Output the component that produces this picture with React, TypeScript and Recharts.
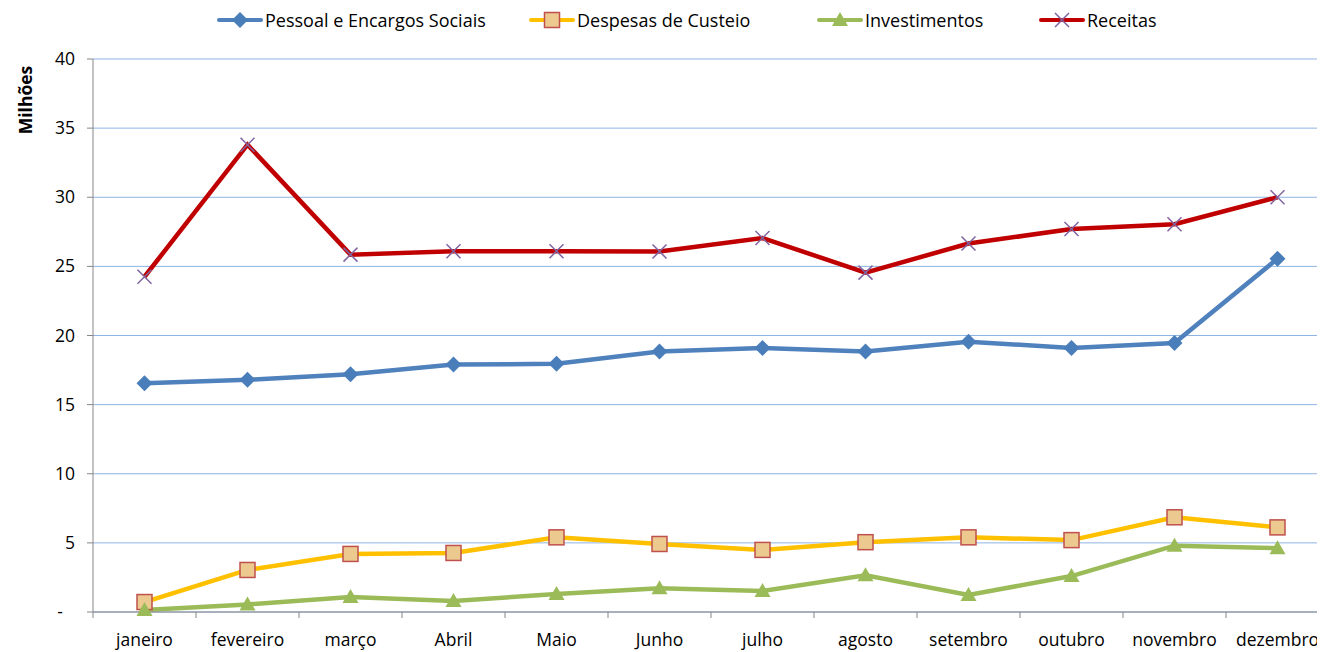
import React from "react";
import { LineChart, Line, XAxis, YAxis, CartesianGrid } from "recharts";

const months = [
  "janeiro",
  "fevereiro",
  "março",
  "Abril",
  "Maio",
  "Junho",
  "julho",
  "agosto",
  "setembro",
  "outubro",
  "novembro",
  "dezembro",
];

// valores em milhões
const pessoal = [16.55, 16.8, 17.2, 17.9, 17.95, 18.85, 19.1, 18.85, 19.55, 19.1, 19.45, 25.55];
const despesas = [0.72, 3.04, 4.2, 4.27, 5.4, 4.92, 4.49, 5.05, 5.4, 5.2, 6.85, 6.12];
const investimentos = [0.15, 0.55, 1.08, 0.8, 1.3, 1.72, 1.52, 2.65, 1.23, 2.6, 4.8, 4.62];
const receitas = [24.25, 33.8, 25.85, 26.1, 26.1, 26.08, 27.05, 24.55, 26.65, 27.7, 28.05, 30.0];

const yTicks = [0, 5, 10, 15, 20, 25, 30, 35, 40];

const data = months.map((month, i) => ({
  month,
  pessoal: pessoal[i],
  despesas: despesas[i],
  investimentos: investimentos[i],
  receitas: receitas[i],
}));

const FONT = "'Open Sans', sans-serif";
const FS = 17.5;
const W = 1321; // plot runs slightly past the visible frame, like the original
const H = 644;
const PLOT_LEFT = 85;
const PLOT_BOTTOM = 604;
const BAND = (W - PLOT_LEFT) / months.length;

const BLUE = "#4f81bd";
const GOLD = "#ffc000";
const GREEN = "#9bbb59";
const RED = "#c00000";
const PURPLE = "#8064a2";

const Diamond = ({ cx, cy }: any) =>
  cx == null ? null : (
    <path d={`M${cx},${cy - 8} L${cx + 8},${cy} L${cx},${cy + 8} L${cx - 8},${cy} Z`} fill="#4a7ebb" />
  );

const Square = ({ cx, cy }: any) =>
  cx == null ? null : (
    <rect x={cx - 7.5} y={cy - 7.5} width={15} height={15} fill="#ebc98f" stroke="#c0504d" strokeWidth={1.5} />
  );

const Triangle = ({ cx, cy }: any) =>
  cx == null ? null : (
    <path d={`M${cx},${cy - 8} L${cx + 8},${cy + 6} L${cx - 8},${cy + 6} Z`} fill={GREEN} />
  );

const Cross = ({ cx, cy }: any) =>
  cx == null ? null : (
    <path
      d={`M${cx - 7},${cy - 7} L${cx + 7},${cy + 7} M${cx + 7},${cy - 7} L${cx - 7},${cy + 7}`}
      stroke={PURPLE}
      strokeWidth={1.5}
    />
  );

const XTick = ({ x, payload, index }: any) => (
  <g>
    <line x1={x - BAND / 2} x2={x - BAND / 2} y1={PLOT_BOTTOM} y2={PLOT_BOTTOM + 6} stroke="#868686" />
    {index === months.length - 1 && (
      <line x1={x + BAND / 2} x2={x + BAND / 2} y1={PLOT_BOTTOM} y2={PLOT_BOTTOM + 6} stroke="#868686" />
    )}
    <text x={x} y={PLOT_BOTTOM + 34} textAnchor="middle" fontSize={FS} fontFamily={FONT} fill="#000">
      {payload.value}
    </text>
  </g>
);

const YTick = ({ x, y, payload }: any) => (
  <text
    x={payload.value === 0 ? x - 12 : x}
    y={y + 6}
    textAnchor="end"
    fontSize={FS}
    fontFamily={FONT}
    fill="#000"
  >
    {payload.value === 0 ? "-" : payload.value}
  </text>
);

const legendItems = [
  { name: "Pessoal e Encargos Sociais", color: BLUE, Marker: Diamond, left: 208 },
  { name: "Despesas de Custeio", color: GOLD, Marker: Square, left: 520 },
  { name: "Investimentos", color: GREEN, Marker: Triangle, left: 808 },
  { name: "Receitas", color: RED, Marker: Cross, left: 1030 },
];

export default function App() {
  return (
    <div style={{ position: "relative", width: 1317, height: H, overflow: "hidden", fontFamily: FONT }}>
      {legendItems.map(({ name, color, Marker, left }) => (
        <div
          key={name}
          style={{
            position: "absolute",
            top: 0,
            left,
            display: "flex",
            alignItems: "center",
            fontSize: 18,
            whiteSpace: "nowrap",
          }}
        >
          <svg width={48} height={24}>
            <line x1={3} x2={45} y1={12} y2={12} stroke={color} strokeWidth={4} strokeLinecap="round" />
            <Marker cx={24} cy={12} />
          </svg>
          <span style={{ marginLeft: 1 }}>{name}</span>
        </div>
      ))}
      <div
        style={{
          position: "absolute",
          left: 17,
          top: 92,
          transform: "translate(-50%, -50%) rotate(-90deg)",
          fontWeight: "bold",
          fontSize: FS,
          whiteSpace: "nowrap",
        }}
      >
        Milhões
      </div>
      <LineChart width={W} height={H} data={data} margin={{ top: 51, right: 0, bottom: 10, left: 30 }}>
        <CartesianGrid horizontal vertical={false} stroke="#8eb4e3" />
        <XAxis
          dataKey="month"
          height={30}
          stroke="#868686"
          tickLine={false}
          tick={<XTick />}
          interval={0}
          padding={{ left: BAND / 2, right: BAND / 2 }}
        />
        <YAxis
          width={55}
          domain={[0, 40]}
          ticks={yTicks}
          stroke="#868686"
          tickSize={6}
          tick={<YTick />}
          tickMargin={12}
        />
        <Line dataKey="pessoal" stroke={BLUE} strokeWidth={4.5} dot={<Diamond />} isAnimationActive={false} />
        <Line dataKey="despesas" stroke={GOLD} strokeWidth={4.5} dot={<Square />} isAnimationActive={false} />
        <Line dataKey="investimentos" stroke={GREEN} strokeWidth={4.5} dot={<Triangle />} isAnimationActive={false} />
        <Line dataKey="receitas" stroke={RED} strokeWidth={4.5} dot={<Cross />} isAnimationActive={false} />
      </LineChart>
    </div>
  );
}
